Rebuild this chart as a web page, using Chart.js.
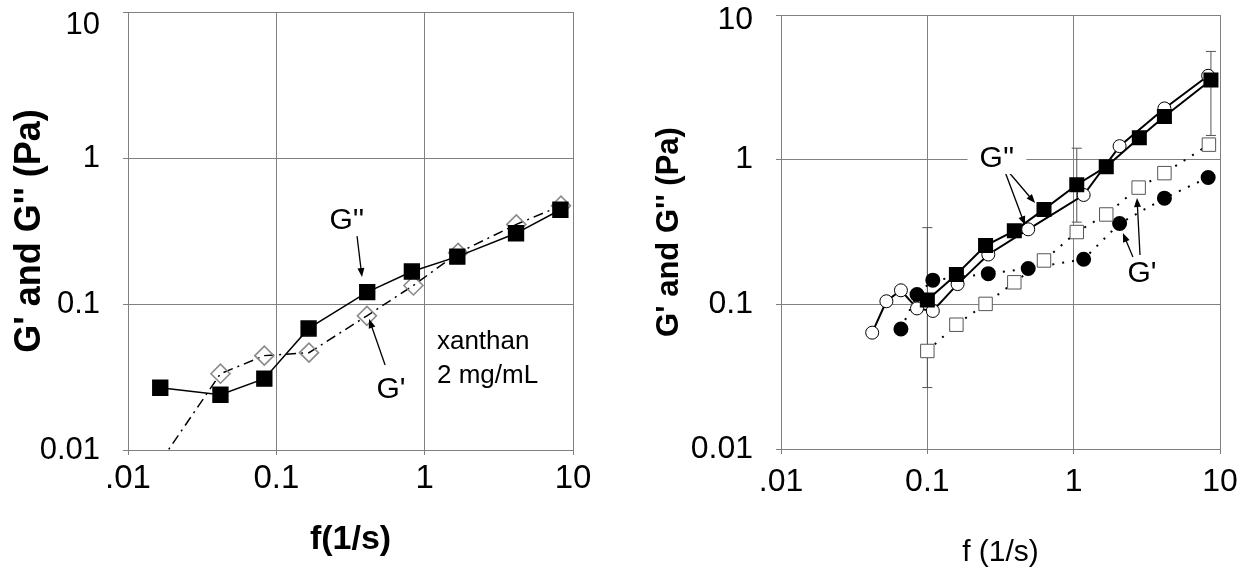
<!DOCTYPE html>
<html lang="en">
<head>
<meta charset="UTF-8">
<title>G' and G'' vs f</title>
<script src="https://cdn.jsdelivr.net/npm/chart.js@4.4.1/dist/chart.umd.min.js"></script>
<style>
  body { margin: 0; background: #fff; }
  #wrap { position: relative; width: 1244px; height: 568px; }
  #left { position: absolute; left: 0; top: 0; }
  #right { position: absolute; left: 620px; top: 0; }
</style>
</head>
<body>
<div id="wrap">
  <canvas id="left" width="620" height="568"></canvas>
  <canvas id="right" width="624" height="568"></canvas>
</div>
<script>
// ---- axes (both panels)
const axisTicks = [0.01, 0.1, 1, 10];
const xTickLabels = ['.01', '0.1', '1', '10'];
const yTickLabels = ['0.01', '0.1', '1', '10'];

// ---- left panel : xanthan 2 mg/mL
const fLeftGpp = [0.0165, 0.042, 0.083, 0.165, 0.41, 0.82, 1.66, 4.13, 8.22];
const gppLeft  = [0.0267, 0.0239, 0.0308, 0.068, 0.1205, 0.167, 0.211, 0.305, 0.442];
const fLeftGp  = [0.0165, 0.042, 0.083, 0.166, 0.408, 0.84, 1.68, 4.15, 8.3];
const gpLeft   = [0.0083, 0.0333, 0.0443, 0.0464, 0.083, 0.134, 0.224, 0.351, 0.471];

// ---- right panel
const fSq     = [0.1, 0.158, 0.25, 0.393, 0.627, 1.05, 1.67, 2.81, 4.17, 8.67];
const gppSq   = [0.107, 0.161, 0.255, 0.322, 0.453, 0.671, 0.895, 1.42, 1.99, 3.55];
const fCirc   = [0.042, 0.0525, 0.066, 0.085, 0.109, 0.161, 0.261, 0.489, 1.17, 2.06, 4.17, 8.3];
const gppCirc = [0.0637, 0.105, 0.125, 0.0937, 0.09, 0.138, 0.221, 0.33, 0.57, 1.24, 2.26, 3.8];
const fOpenSq = [0.1, 0.158, 0.25, 0.393, 0.627, 1.05, 1.67, 2.78, 4.17, 8.4];
const gpOpenSq = [0.0476, 0.0723, 0.1007, 0.142, 0.201, 0.316, 0.418, 0.641, 0.807, 1.27];
const fDot    = [0.066, 0.085, 0.109, 0.261, 0.489, 1.17, 2.06, 4.17, 8.3];
const gpDot   = [0.0675, 0.117, 0.147, 0.163, 0.177, 0.205, 0.362, 0.542, 0.753];
// error bars
const errF  = [0.1, 1.05, 8.67];
const errLo = [0.0266, 0.37, 1.47];
const errHi = [0.339, 1.2, 5.6];

const FONT = 'Liberation Sans, Arial, sans-serif';
Chart.defaults.font.family = FONT;
Chart.defaults.color = '#000';

function pts(xs, ys) { return xs.map((x, i) => ({x: x, y: ys[i]})); }

// text + arrows drawn in data coordinates
const annotate = {
  id: 'annotate',
  afterDatasetsDraw(chart, args, opts) {
    const ctx = chart.ctx, sx = chart.scales.x, sy = chart.scales.y;
    ctx.save();
    ctx.strokeStyle = '#000';
    ctx.fillStyle = '#000';
    ctx.lineWidth = 1.3;
    (opts.arrows || []).forEach(a => {
      const x1 = sx.getPixelForValue(a[0]), y1 = sy.getPixelForValue(a[1]);
      const x2 = sx.getPixelForValue(a[2]), y2 = sy.getPixelForValue(a[3]);
      const ang = Math.atan2(y2 - y1, x2 - x1);
      ctx.beginPath();
      ctx.moveTo(x1, y1);
      ctx.lineTo(x2 - 6 * Math.cos(ang), y2 - 6 * Math.sin(ang));
      ctx.stroke();
      ctx.beginPath();
      ctx.moveTo(x2, y2);
      ctx.lineTo(x2 - 9 * Math.cos(ang) + 3.5 * Math.sin(ang), y2 - 9 * Math.sin(ang) - 3.5 * Math.cos(ang));
      ctx.lineTo(x2 - 9 * Math.cos(ang) - 3.5 * Math.sin(ang), y2 - 9 * Math.sin(ang) + 3.5 * Math.cos(ang));
      ctx.closePath();
      ctx.fill();
    });
    (opts.labels || []).forEach(l => {
      const x = sx.getPixelForValue(l.x), y = sy.getPixelForValue(l.y);
      ctx.font = l.size + 'px ' + FONT;
      ctx.textAlign = l.align || 'center';
      ctx.textBaseline = 'middle';
      if (l.bg) {
        const w = ctx.measureText(l.text).width;
        ctx.fillStyle = '#fff';
        ctx.fillRect(x - w / 2 - 12, y - l.size / 2, w + 24, l.size);
      }
      ctx.fillStyle = '#000';
      ctx.fillText(l.text, x, y);
    });
    ctx.restore();
  }
};

function logScale(o) {
  return {
    type: 'logarithmic', min: 0.01, max: 10,
    afterBuildTicks: s => { s.ticks = axisTicks.map(v => ({value: v})); },
    afterFit: s => {
      if (s.isHorizontal()) s.height = o.size; else s.width = o.size;
      s.paddingLeft = 0; s.paddingRight = 0; s.paddingTop = 0; s.paddingBottom = 0;
    },
    grid: { color: '#808080', lineWidth: 1, tickLength: 5 },
    border: { color: '#808080' },
    ticks: {
      callback: o.labels, padding: o.pad, autoSkip: false, maxRotation: 0,
      font: { size: o.tickSize, lineHeight: o.lh || 1 }, color: '#000'
    },
    title: {
      display: true, text: o.title, color: '#000',
      font: { size: o.titleSize, weight: o.bold ? 'bold' : 'normal', lineHeight: 1 },
      padding: o.titlePad
    }
  };
}

// ---------------- LEFT
new Chart(document.getElementById('left'), {
  type: 'scatter',
  data: {
    datasets: [{
      data: pts(fLeftGpp, gppLeft),
      showLine: true, borderColor: '#000', borderWidth: 1.5,
      pointStyle: 'rect', pointRadius: 10.5, pointBackgroundColor: '#000', pointBorderColor: '#000'
    }, {
      data: pts(fLeftGp, gpLeft),
      showLine: true, borderColor: '#000', borderWidth: 1.5, borderDash: [10, 5, 2, 5],
      pointStyle: 'rectRot', pointRadius: 9.5, pointBorderWidth: 1.6,
      pointBackgroundColor: 'rgba(0,0,0,0)', pointBorderColor: '#8a8a8a'
    }]
  },
  options: {
    responsive: false, animation: false,
    layout: { padding: { left: 0, top: 12, right: 47, bottom: 0 } },
    plugins: {
      legend: { display: false }, tooltip: { enabled: false },
      annotate: {
        labels: [
          {text: "G''", x: 0.299, y: 0.37, size: 30},
          {text: "G'", x: 0.593, y: 0.0258, size: 30},
          {text: 'xanthan', x: 1.21, y: 0.055, size: 26, align: 'left'},
          {text: '2 mg/mL', x: 1.21, y: 0.0321, size: 26, align: 'left'}
        ],
        arrows: [
          [0.35, 0.292, 0.378, 0.153],
          [0.541, 0.0382, 0.422, 0.0789]
        ]
      }
    },
    scales: {
      x: logScale({size: 118, labels: (v, i) => xTickLabels[i], pad: 7, tickSize: 33,
                   title: 'f(1/s)', titleSize: 34, bold: true, titlePad: {top: 0, bottom: 11}}),
      y: logScale({size: 128, labels: (v, i) => i === 3 ? ['', yTickLabels[i]] : yTickLabels[i], pad: 23, tickSize: 31,
                   lh: 0.9, title: "G' and G'' (Pa)", titleSize: 36, bold: true, titlePad: {top: 12, bottom: 0}})
    }
  },
  plugins: [annotate]
});

// ---------------- RIGHT
const errSets = errF.map((f, i) => ({
  data: [{x: f, y: errLo[i]}, {x: f, y: errHi[i]}],
  showLine: true, borderColor: '#555', borderWidth: 1,
  pointStyle: 'line', pointRadius: 5, pointBorderColor: '#555', pointBorderWidth: 1
}));

new Chart(document.getElementById('right'), {
  type: 'scatter',
  data: {
    datasets: [{
      data: pts(fSq, gppSq),
      showLine: true, borderColor: '#000', borderWidth: 2,
      pointStyle: 'rect', pointRadius: 9.2, pointBackgroundColor: '#000', pointBorderColor: '#000'
    }, {
      data: pts(fCirc, gppCirc),
      showLine: true, borderColor: '#000', borderWidth: 2,
      pointStyle: 'circle', pointRadius: 6.5, pointBorderWidth: 1,
      pointBackgroundColor: '#fff', pointBorderColor: '#000'
    }, {
      data: pts(fOpenSq, gpOpenSq),
      showLine: true, borderColor: '#000', borderWidth: 2, borderDash: [2, 8],
      pointStyle: 'rect', pointRadius: 9.5, pointBorderWidth: 1,
      pointBackgroundColor: '#fff', pointBorderColor: '#555'
    }, {
      data: pts(fDot, gpDot),
      showLine: true, borderColor: '#000', borderWidth: 2, borderDash: [2, 8],
      pointStyle: 'circle', pointRadius: 6.5, pointBackgroundColor: '#000', pointBorderColor: '#000'
    }].concat(errSets)
  },
  options: {
    responsive: false, animation: false,
    layout: { padding: { left: 0, top: 15, right: 24, bottom: 0 } },
    plugins: {
      legend: { display: false }, tooltip: { enabled: false },
      annotate: {
        labels: [
          {text: "G''", x: 0.299, y: 1.01, size: 30, bg: true},
          {text: "G'", x: 2.93, y: 0.162, size: 30}
        ],
        arrows: [
          [0.35, 0.848, 0.545, 0.501],
          [0.34, 0.822, 0.465, 0.353],
          [2.84, 0.219, 2.71, 0.543],
          [2.54, 0.212, 2.17, 0.311]
        ]
      }
    },
    scales: {
      x: logScale({size: 119, labels: (v, i) => xTickLabels[i], pad: 12, tickSize: 32,
                   title: 'f (1/s)', titleSize: 30, bold: false, titlePad: {top: 0, bottom: 0}}),
      y: logScale({size: 161, labels: (v, i) => i === 3 ? ['', yTickLabels[i]] : yTickLabels[i], pad: 23, tickSize: 32,
                   lh: 0.35, title: "G' and G'' (Pa)", titleSize: 31, bold: true, titlePad: {top: 34, bottom: 0}})
    }
  },
  plugins: [annotate]
});
</script>
</body>
</html>
